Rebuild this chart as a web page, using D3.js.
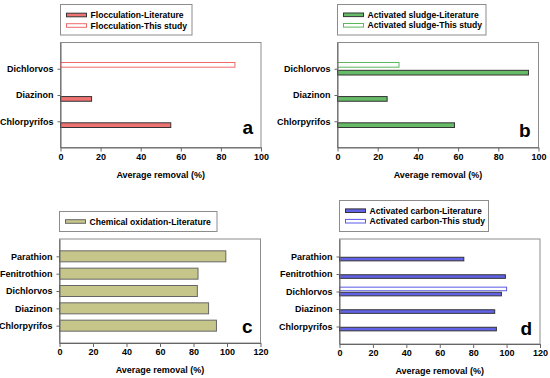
<!DOCTYPE html>
<html>
<head>
<meta charset="utf-8">
<script src="https://cdn.jsdelivr.net/npm/d3@7"></script>
<style>
  body { margin: 0; background: #fff; }
  svg { font-family: "Liberation Sans", Arial, sans-serif; }
  .tick text { font-weight: bold; fill: #000; }
</style>
</head>
<body>
<div id="chart"></div>
<script>
const pesticidesAB = ["Dichlorvos", "Diazinon", "Chlorpyrifos"];
const pesticidesCD = ["Parathion", "Fenitrothion", "Dichlorvos", "Diazinon", "Chlorpyrifos"];
const flocLiterature = [null, 15.5, 55];
const flocStudy = [87, null, null];
const sludgeLiterature = [95, 24.7, 58.2];
const sludgeStudy = [30.6, null, null];
const oxidationLiterature = [99.3, 82.7, 82.3, 89, 93.7];
const carbonLiterature = [74.4, 99.3, 96.9, 92.9, 93.9];
const carbonStudy = [null, null, 100, null, null];
const ticks100 = [0, 20, 40, 60, 80, 100];
const ticks120 = [0, 20, 40, 60, 80, 100, 120];

const svg = d3.select("#chart").append("svg").attr("width", 550).attr("height", 378);

function drawPanel(p) {
  const g = svg.append("g");
  const x = d3.scaleLinear().domain([0, p.max]).range([p.left, p.right]);
  const y = d3.scalePoint().domain(p.cats).range([p.top, p.bottom]).padding(1);
  const keys = p.series.map(s => s.key);
  const sub = d3.scaleBand().domain(keys).range([-p.groupH / 2, p.groupH / 2]).paddingInner(p.inner);

  g.append("rect")
    .attr("x", p.left).attr("y", p.top)
    .attr("width", p.right - p.left).attr("height", p.bottom - p.top)
    .attr("fill", "none").attr("stroke", "#8c8c8c");

  p.series.forEach(s => {
    g.selectAll(null)
      .data(p.cats.map((c, i) => ({ c, v: s.values[i] })).filter(d => d.v != null))
      .enter()
      .append("rect")
      .attr("x", x(0))
      .attr("y", d => y(d.c) + sub(s.key))
      .attr("width", d => x(d.v) - x(0))
      .attr("height", sub.bandwidth())
      .attr("fill", s.fill)
      .attr("stroke", s.stroke)
      .attr("stroke-width", 1);
  });

  const xAxis = g.append("g")
    .attr("transform", `translate(0,${p.bottom})`)
    .call(d3.axisBottom(x).tickValues(p.ticks).tickSize(4).tickPadding(2).tickSizeOuter(0));
  xAxis.selectAll("text").style("font-size", "9px");
  const yAxis = g.append("g")
    .attr("transform", `translate(${p.left},0)`)
    .call(d3.axisLeft(y).tickSize(3).tickPadding(4).tickSizeOuter(0));
  yAxis.selectAll("text").style("font-size", "9px");
  g.selectAll(".domain").attr("stroke", "#666");
  g.selectAll(".tick line").attr("stroke", "#666");

  g.append("text")
    .attr("x", (p.left + p.right) / 2).attr("y", p.bottom + 30)
    .attr("text-anchor", "middle")
    .style("font-size", "9px").style("font-weight", "bold")
    .text("Average removal (%)");

  g.append("text")
    .attr("x", p.right - 8).attr("y", p.letterY)
    .attr("text-anchor", "end")
    .style("font-size", "19px").style("font-weight", "bold")
    .text(p.letter);

  const lg = p.legend;
  g.append("rect")
    .attr("x", lg.x).attr("y", lg.y).attr("width", lg.w).attr("height", lg.h)
    .attr("fill", "#fff").attr("stroke", "#8c8c8c");
  const items = [...p.series].reverse();
  items.forEach((s, i) => {
    const cy = lg.firstY + i * 10.5;
    g.append("rect")
      .attr("x", lg.x + 6).attr("y", cy - 1.8).attr("width", 20).attr("height", 3.6)
      .attr("fill", s.fill).attr("stroke", s.stroke);
    g.append("text")
      .attr("x", lg.x + 30).attr("y", cy).attr("dy", "0.35em")
      .style("font-size", "8.6px").style("font-weight", "bold")
      .text(s.label);
  });
}

drawPanel({
  cats: pesticidesAB, max: 100, ticks: ticks100,
  left: 60.5, right: 261, top: 42.5, bottom: 147.5,
  groupH: 12.5, inner: 0.4, letter: "a", letterY: 133.5,
  legend: { x: 60.5, y: 4.5, w: 131.5, h: 30.5, firstY: 15 },
  series: [
    { key: "study", values: flocStudy, label: "Flocculation-This study", fill: "#fff", stroke: "#f06a6a" },
    { key: "lit", values: flocLiterature, label: "Flocculation-Literature", fill: "#f07373", stroke: "#333" }
  ]
});

drawPanel({
  cats: pesticidesAB, max: 100, ticks: ticks100,
  left: 337.5, right: 538.5, top: 42.5, bottom: 147.5,
  groupH: 12.5, inner: 0.4, letter: "b", letterY: 136.5,
  legend: { x: 337.5, y: 4.5, w: 148.5, h: 30.5, firstY: 14.8 },
  series: [
    { key: "study", values: sludgeStudy, label: "Activated sludge-This study", fill: "#fff", stroke: "#5cb85c" },
    { key: "lit", values: sludgeLiterature, label: "Activated sludge-Literature", fill: "#66bb66", stroke: "#333" }
  ]
});

drawPanel({
  cats: pesticidesCD, max: 120, ticks: ticks120,
  left: 59.5, right: 260.5, top: 239, bottom: 343,
  groupH: 11, inner: 0, letter: "c", letterY: 333,
  legend: { x: 59.5, y: 211.5, w: 157.5, h: 20, firstY: 221.5 },
  series: [
    { key: "lit", values: oxidationLiterature, label: "Chemical oxidation-Literature", fill: "#c6c68a", stroke: "#666" }
  ]
});

drawPanel({
  cats: pesticidesCD, max: 120, ticks: ticks120,
  left: 339.5, right: 540, top: 239, bottom: 344,
  groupH: 8.7, inner: 0.3, letter: "d", letterY: 335,
  legend: { x: 339.5, y: 200.5, w: 149, h: 31, firstY: 210.7 },
  series: [
    { key: "study", values: carbonStudy, label: "Activated carbon-This study", fill: "#fff", stroke: "#5a5ae6" },
    { key: "lit", values: carbonLiterature, label: "Activated carbon-Literature", fill: "#6262e8", stroke: "#333" }
  ]
});
</script>
</body>
</html>
